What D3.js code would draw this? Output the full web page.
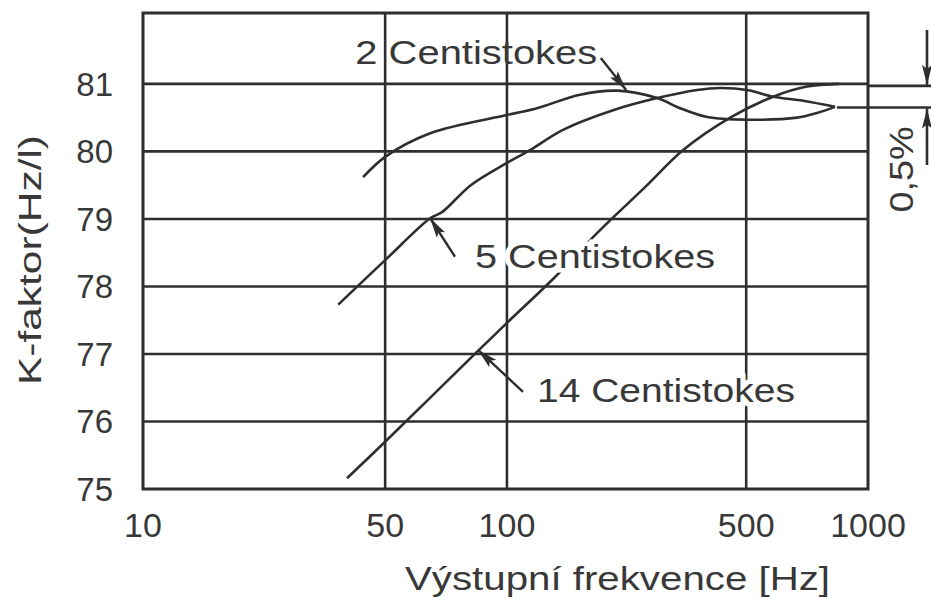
<!DOCTYPE html>
<html>
<head>
<meta charset="utf-8">
<script src="https://cdn.jsdelivr.net/npm/d3@7"></script>
<style>
body { margin: 0; background: #fff; }
text { font-family: "Liberation Sans", Arial, sans-serif; fill: #383838; }
</style>
</head>
<body>
<script>
// values (frequency in Hz, K-factor in Hz/l)
var freqTicks = [10, 50, 100, 500, 1000];
var kTicks = [75, 76, 77, 78, 79, 80, 81];

var freq2 = [43.2, 50, 64.6, 100, 122.4, 163.5, 209.8, 274.7, 320.6, 384.6, 503, 668, 748, 829];
var k2 = [79.62, 79.92, 80.27, 80.54, 80.64, 80.84, 80.90, 80.79, 80.64, 80.51, 80.47, 80.50, 80.57, 80.66];

var freq5 = [36.6, 50, 64.6, 69.1, 81.4, 100, 116.8, 145.8, 204.2, 274.7, 359.5, 419.7, 503, 583, 691, 829];
var k5 = [77.73, 78.39, 79.01, 79.10, 79.50, 79.83, 80.02, 80.32, 80.61, 80.79, 80.91, 80.94, 80.91, 80.81, 80.75, 80.66];

var freq14 = [38.8, 50, 84.3, 100, 138.2, 183.3, 256.8, 327.2, 449, 583, 707, 848];
var k14 = [75.16, 75.70, 77.03, 77.46, 78.14, 78.79, 79.50, 80.02, 80.50, 80.81, 80.96, 81.0];

var seriesNames = ["2 Centistokes", "5 Centistokes", "14 Centistokes"];
var bandK = [81, 80.65];   // the 0,5% band on the right
var bandLabel = "0,5%";
var xTitle = "Výstupní frekvence [Hz]";
var yTitle = "K-faktor(Hz/l)";

// layout
var width = 931, height = 598;
var plotL = 143, plotR = 868, plotT = 13, plotB = 489;
var ink = "#2e2e2e";

// the printed log axis is not quite even, so the decades are pinned where the grid was drawn
var xFrac = [0, 0.334, 0.502, 0.832, 1];
var x = d3.scaleLog()
    .domain(freqTicks)
    .range(xFrac.map(function(f){ return plotL + f * (plotR - plotL); }));

var y = d3.scaleLinear()
    .domain([75, 82.05])
    .range([plotB, plotT]);

var svg = d3.select("body").append("svg")
    .attr("width", width)
    .attr("height", height);

var defs = svg.append("defs");
defs.append("marker")
    .attr("id", "head")
    .attr("markerUnits", "userSpaceOnUse")
    .attr("viewBox", "0 0 20 10")
    .attr("refX", 20).attr("refY", 5)
    .attr("markerWidth", 20).attr("markerHeight", 10)
    .attr("orient", "auto")
    .append("path")
    .attr("d", "M0,0 L20,5 L0,10 L4,5 Z")
    .attr("fill", ink);

// grid
svg.append("g").selectAll("line")
    .data(kTicks.filter(function(d){ return d > 75; }))
    .enter().append("line")
    .attr("x1", plotL).attr("x2", plotR)
    .attr("y1", function(d){ return y(d); })
    .attr("y2", function(d){ return y(d); })
    .attr("stroke", ink).attr("stroke-width", 2.6);

svg.append("g").selectAll("line")
    .data(freqTicks.slice(1, -1))
    .enter().append("line")
    .attr("y1", plotT).attr("y2", plotB)
    .attr("x1", function(d){ return x(d); })
    .attr("x2", function(d){ return x(d); })
    .attr("stroke", ink).attr("stroke-width", 2.6);

// frame
svg.append("rect")
    .attr("x", plotL).attr("y", plotT)
    .attr("width", plotR - plotL).attr("height", plotB - plotT)
    .attr("fill", "none")
    .attr("stroke", ink).attr("stroke-width", 3);

// tick labels
svg.append("g").selectAll("text")
    .data(kTicks)
    .enter().append("text")
    .attr("x", plotL - 30)
    .attr("y", function(d){ return y(d); })
    .attr("dy", "0.36em")
    .attr("text-anchor", "end")
    .style("font-size", "33px")
    .text(function(d){ return d; });

svg.append("g").selectAll("text")
    .data(freqTicks)
    .enter().append("text")
    .attr("x", function(d){ return x(d); })
    .attr("y", plotB + 48)
    .attr("text-anchor", "middle")
    .style("font-size", "34px")
    .text(function(d){ return d; });

// axis titles
svg.append("text")
    .attr("x", 405).attr("y", 590)
    .attr("textLength", 425)
    .attr("lengthAdjust", "spacingAndGlyphs")
    .style("font-size", "34px")
    .text(xTitle);

svg.append("text")
    .attr("transform", "translate(41,260) rotate(-90)")
    .attr("text-anchor", "middle")
    .attr("textLength", 250)
    .attr("lengthAdjust", "spacingAndGlyphs")
    .style("font-size", "32px")
    .text(yTitle);

// curves
var line = d3.line()
    .x(function(d){ return x(d[0]); })
    .y(function(d){ return y(d[1]); })
    .curve(d3.curveCatmullRom.alpha(0.5));

var series = [d3.zip(freq2, k2), d3.zip(freq5, k5), d3.zip(freq14, k14)];

svg.append("g").selectAll("path")
    .data(series)
    .enter().append("path")
    .attr("d", line)
    .attr("fill", "none")
    .attr("stroke", ink)
    .attr("stroke-width", 2.6);

// curve labels with pointer arrows (placed in data units)
var notes = [
    {text: seriesNames[0], at: [41, 81.30], from: [188, 81.385], to: [223, 80.91], len: 242, halo: false},
    {text: seriesNames[1], at: [83.4, 78.27], from: [74.4, 78.44], to: [64.6, 79.01], len: 240, halo: true},
    {text: seriesNames[2], at: [122.4, 76.29], from: [111.4, 76.44], to: [84.8, 77.06], len: 258, halo: true}
];

var ng = svg.append("g").selectAll("g")
    .data(notes)
    .enter().append("g");

ng.append("text")
    .attr("x", function(d){ return x(d.at[0]); })
    .attr("y", function(d){ return y(d.at[1]); })
    .attr("textLength", function(d){ return d.len; })
    .attr("lengthAdjust", "spacingAndGlyphs")
    .style("font-size", "34px")
    .style("paint-order", "stroke")
    .style("stroke", function(d){ return d.halo ? "#fff" : "none"; })
    .style("stroke-width", 9)
    .text(function(d){ return d.text; });

ng.append("line")
    .attr("x1", function(d){ return x(d.from[0]); })
    .attr("y1", function(d){ return y(d.from[1]); })
    .attr("x2", function(d){ return x(d.to[0]); })
    .attr("y2", function(d){ return y(d.to[1]); })
    .attr("stroke", ink).attr("stroke-width", 2.4)
    .attr("marker-end", "url(#head)");

// 0,5% band at the right edge
var bx = width - 4;
svg.append("line")
    .attr("x1", plotR).attr("x2", width)
    .attr("y1", y(bandK[0]) + 2).attr("y2", y(bandK[0]) + 2)
    .attr("stroke", ink).attr("stroke-width", 2.6);
svg.append("line")
    .attr("x1", x(838)).attr("x2", width)
    .attr("y1", y(bandK[1])).attr("y2", y(bandK[1]))
    .attr("stroke", ink).attr("stroke-width", 2.6);

svg.append("line")
    .attr("x1", bx).attr("x2", bx)
    .attr("y1", 30).attr("y2", y(bandK[0]) + 1)
    .attr("stroke", ink).attr("stroke-width", 2.6)
    .attr("marker-end", "url(#head)");
svg.append("line")
    .attr("x1", bx).attr("x2", bx)
    .attr("y1", 165).attr("y2", y(bandK[1]) + 1)
    .attr("stroke", ink).attr("stroke-width", 2.6)
    .attr("marker-end", "url(#head)");

svg.append("text")
    .attr("transform", "translate(913," + (y(bandK[1]) + 62) + ") rotate(-90)")
    .attr("text-anchor", "middle")
    .attr("textLength", 86)
    .attr("lengthAdjust", "spacingAndGlyphs")
    .style("font-size", "33px")
    .text(bandLabel);
</script>
</body>
</html>
